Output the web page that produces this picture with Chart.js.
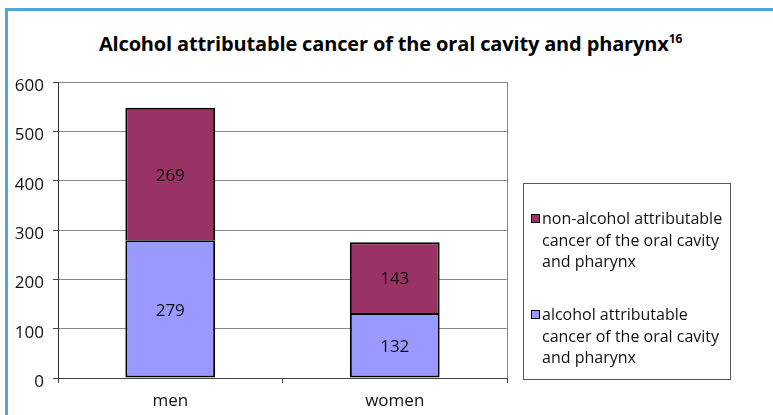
<!DOCTYPE html>
<html>
<head>
<meta charset="utf-8">
<script src="https://cdn.jsdelivr.net/npm/chart.js@4"></script>
<style>
    body { margin: 0; background: #fff; font-family: "Open Sans", sans-serif; }
    #wrap { position: relative; width: 773px; height: 415px; overflow: hidden; background: #fff; }
    #frame { position: absolute; left: 5px; top: 8px; right: -10px; bottom: -10px;
             border-left: 3px solid #4fa7d9; border-top: 3px solid #4fa7d9; }
    #title { position: absolute; left: 0; width: 781px; top: 30px; text-align: center;
             font-weight: bold; font-size: 20px; color: #000; letter-spacing: -0.15px; }
    #title sup { font-size: 12px; vertical-align: 8px; line-height: 0; }
    #chart { position: absolute; left: 0; top: 0; }
    #legend { position: absolute; left: 523px; top: 183px; width: 206px; height: 195px;
              border: 1px solid #555; box-sizing: content-box; font-size: 16px; color: #111; }
    .item { position: absolute; left: 18px; width: 188px; line-height: 21.5px; }
    .swatch { position: absolute; left: -11px; top: 6px; width: 7px; height: 7px; border: 1px solid #000; }
</style>
</head>
<body>
<div id="wrap">
    <div id="frame"></div>
    <div id="title">Alcohol attributable cancer of the oral cavity and pharynx<sup>16</sup></div>
    <canvas id="chart" width="773" height="415"></canvas>
    <div id="legend"></div>
</div>
<script>
const categories = ['men', 'women'];
const alcoholValues = [279, 132];
const nonAlcoholValues = [269, 143];
const seriesLabels = [
    'alcohol attributable cancer of the oral cavity and pharynx',
    'non-alcohol attributable cancer of the oral cavity and pharynx'
];
const seriesColors = ['#9999ff', '#993366'];
const yTicks = [0, 100, 200, 300, 400, 500, 600];

const FONT = '"Open Sans", sans-serif';

// numbers centred in each stacked segment
const segmentLabels = {
    id: 'segmentLabels',
    afterDatasetsDraw(chart) {
        const ctx = chart.ctx;
        ctx.save();
        ctx.font = '17px ' + FONT;
        ctx.fillStyle = '#111';
        ctx.textAlign = 'center';
        ctx.textBaseline = 'middle';
        chart.data.datasets.forEach((ds, i) => {
            chart.getDatasetMeta(i).data.forEach((bar, j) => {
                const p = bar.getProps(['x', 'y', 'base'], true);
                ctx.fillText(ds.data[j], p.x, (p.y + p.base) / 2 + 2);
            });
        });
        ctx.restore();
    }
};

// grey right edge of the plot area
const plotEdge = {
    id: 'plotEdge',
    beforeDatasetsDraw(chart) {
        const a = chart.chartArea, ctx = chart.ctx;
        ctx.save();
        ctx.strokeStyle = '#888';
        ctx.lineWidth = 1;
        ctx.beginPath();
        ctx.moveTo(a.right + 0.5, a.top);
        ctx.lineTo(a.right + 0.5, a.bottom);
        ctx.stroke();
        ctx.restore();
    }
};

const chart = new Chart(document.getElementById('chart'), {
    type: 'bar',
    data: {
        labels: categories,
        datasets: [
            { label: seriesLabels[0], data: alcoholValues, backgroundColor: seriesColors[0],
              borderColor: '#000', borderWidth: 2, borderSkipped: false },
            { label: seriesLabels[1], data: nonAlcoholValues, backgroundColor: seriesColors[1],
              borderColor: '#000', borderWidth: 2, borderSkipped: 'bottom' }
        ]
    },
    options: {
        responsive: false,
        animation: false,
        layout: { padding: { left: 0, top: 82, right: 266, bottom: 0 } },
        datasets: { bar: { barPercentage: 0.4, categoryPercentage: 1 } },
        plugins: { legend: { display: false }, tooltip: { enabled: false } },
        scales: {
            x: {
                stacked: true,
                grid: { display: true, drawOnChartArea: false, offset: true, tickLength: 5, color: '#444' },
                border: { color: '#444', width: 1 },
                ticks: { font: { family: FONT, size: 17 }, color: '#111', padding: 8 },
                afterFit(s) { s.height = 37; }
            },
            y: {
                stacked: true,
                min: 0,
                max: 600,
                afterBuildTicks(s) { s.ticks = yTicks.map(v => ({ value: v })); },
                grid: { color: '#888', tickLength: 5, tickColor: '#444' },
                border: { color: '#333', width: 1 },
                ticks: { font: { family: FONT, size: 17 }, color: '#111', padding: 9, labelOffset: 4 },
                afterFit(s) { s.width = 58; }
            }
        }
    },
    plugins: [segmentLabels, plotEdge]
});

// legend built from the datasets, top series first
const legend = document.getElementById('legend');
const tops = [24, 120];
chart.data.datasets.slice().reverse().forEach((ds, i) => {
    const item = document.createElement('div');
    item.className = 'item';
    item.style.top = tops[i] + 'px';
    item.innerHTML = '<span class="swatch" style="background:' + ds.backgroundColor + '"></span>' + ds.label;
    legend.appendChild(item);
});
</script>
</body>
</html>
